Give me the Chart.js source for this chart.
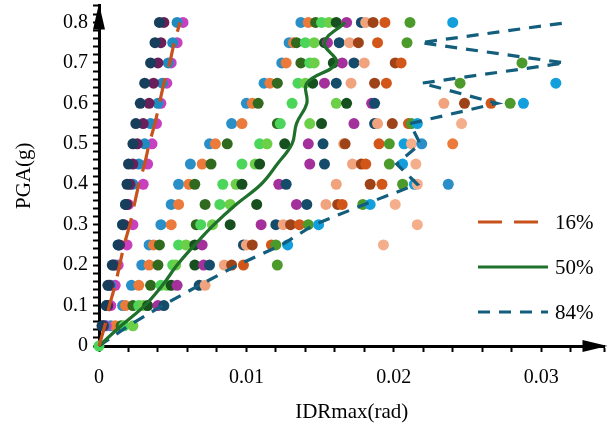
<!DOCTYPE html>
<html>
<head>
<meta charset="utf-8">
<script src="https://cdn.jsdelivr.net/npm/chart.js@4.4.1/dist/chart.umd.min.js"></script>
<style>
  html, body { margin: 0; padding: 0; background: #fff; }
</style>
</head>
<body>
<canvas id="idaChart" width="610" height="428"></canvas>
<script>
// PGA levels (g) used for every record
const pgaLevels = [0.05, 0.1, 0.15, 0.2, 0.25, 0.3, 0.35, 0.4, 0.45, 0.5, 0.55, 0.6, 0.65, 0.7, 0.75, 0.8];

// four stiff records, IDRmax (rad) at each PGA level
const stiffA = [0.0002, 0.0005, 0.0006, 0.0009, 0.0013, 0.0016, 0.0018, 0.0019, 0.0020, 0.0023, 0.0025, 0.0028, 0.0031, 0.0035, 0.0038, 0.0041];
const stiffB = [0.0003, 0.0006, 0.0007, 0.0010, 0.0014, 0.0017, 0.0019, 0.0021, 0.0023, 0.0026, 0.0030, 0.0034, 0.0037, 0.0040, 0.0042, 0.0044];
const stiffC = [0.0004, 0.0005, 0.0008, 0.0011, 0.0013, 0.0016, 0.0018, 0.0023, 0.0027, 0.0031, 0.0035, 0.0040, 0.0043, 0.0047, 0.0050, 0.0053];
const stiffD = [0.0005, 0.0008, 0.0011, 0.0013, 0.0019, 0.0023, 0.0020, 0.0030, 0.0033, 0.0036, 0.0039, 0.0042, 0.0046, 0.0049, 0.0053, 0.0057];

// the other records, IDRmax (rad) per PGA level, sorted by drift
const idr005 = [0.0008, 0.0011, 0.0015, 0.0017, 0.0023];
const idr010 = [0.0016, 0.0018, 0.0023, 0.0027, 0.0030, 0.0033, 0.0040, 0.0044];
const idr015 = [0.0022, 0.0027, 0.0035, 0.0042, 0.0046, 0.0049, 0.0053, 0.0068, 0.0072];
const idr020 = [0.0029, 0.0034, 0.0040, 0.0050, 0.0052, 0.0065, 0.0071, 0.0075, 0.0085, 0.0090, 0.0098, 0.0121];
const idr025 = [0.0034, 0.0037, 0.0041, 0.0054, 0.0059, 0.0065, 0.0070, 0.0098, 0.0100, 0.0104, 0.0117, 0.0120, 0.0128, 0.0193];
const idr030 = [0.0042, 0.0049, 0.0066, 0.0069, 0.0077, 0.0089, 0.0110, 0.0120, 0.0125, 0.0130, 0.0136, 0.0142, 0.0149, 0.0216];
const idr035 = [0.0049, 0.0054, 0.0072, 0.0082, 0.0089, 0.0107, 0.0134, 0.0141, 0.0154, 0.0162, 0.0165, 0.0179, 0.0184, 0.0201];
const idr040 = [0.0054, 0.0061, 0.0065, 0.0084, 0.0093, 0.0097, 0.0122, 0.0127, 0.0161, 0.0184, 0.0192, 0.0206, 0.0214, 0.0216, 0.0237];
const idr045 = [0.0062, 0.0070, 0.0076, 0.0097, 0.0106, 0.0109, 0.0143, 0.0153, 0.0172, 0.0178, 0.0181, 0.0197, 0.0206, 0.0215];
const idr050 = [0.0075, 0.0079, 0.0087, 0.0109, 0.0114, 0.0126, 0.0142, 0.0152, 0.0166, 0.0167, 0.0190, 0.0197, 0.0207, 0.0212, 0.0219, 0.0240];
const idr055 = [0.0090, 0.0097, 0.0121, 0.0123, 0.0143, 0.0151, 0.0173, 0.0187, 0.0189, 0.0199, 0.0210, 0.0212, 0.0216, 0.0246];
const idr060 = [0.0100, 0.0104, 0.0108, 0.0131, 0.0161, 0.0168, 0.0185, 0.0187, 0.0234, 0.0248, 0.0266, 0.0279, 0.0288];
const idr065 = [0.0112, 0.0116, 0.0121, 0.0135, 0.0140, 0.0145, 0.0153, 0.0161, 0.0171, 0.0187, 0.0195, 0.0245, 0.0310];
const idr070 = [0.0124, 0.0127, 0.0137, 0.0143, 0.0146, 0.0159, 0.0165, 0.0173, 0.0180, 0.0201, 0.0205, 0.0287];
const idr075 = [0.0129, 0.0132, 0.0134, 0.0140, 0.0146, 0.0153, 0.0155, 0.0163, 0.0170, 0.0176, 0.0189, 0.0209];
const idr080 = [0.0137, 0.0142, 0.0147, 0.0151, 0.0156, 0.0161, 0.0168, 0.0178, 0.0181, 0.0186, 0.0194, 0.0211, 0.0240];

// fractile curves, starting at the origin
const fractilePga = [0, 0.05, 0.1, 0.15, 0.2, 0.25, 0.3, 0.35, 0.4, 0.45, 0.5, 0.55, 0.6, 0.65, 0.7, 0.75, 0.8];
const frac16 = [0, 0.0004, 0.0007, 0.0011, 0.0014, 0.0017, 0.0021, 0.0024, 0.0027, 0.0031, 0.0034, 0.0038, 0.0041, 0.0044, 0.0048, 0.0051, 0.0055];
const frac50 = [0, 0.0015, 0.0031, 0.0043, 0.0053, 0.0065, 0.0078, 0.0093, 0.0110, 0.0121, 0.0131, 0.0134, 0.0141, 0.0141, 0.0161, 0.0153, 0.0167];
const frac84 = [0, 0.0020, 0.0043, 0.0068, 0.0094, 0.0124, 0.0146, 0.0180, 0.0216, 0.0202, 0.0218, 0.0211, 0.0270, 0.0219, 0.0316, 0.0218, 0.0318];

const stiffColors = ['#173f5c', '#6a1f5b', '#1f8bc1', '#c940bf'];
const recordColors = ['#2a8fc6', '#ec7a3a', '#2f6a1e', '#4bd65b', '#6bcf47', '#15501e', '#a3309b',
                      '#154c6a', '#f0a37d', '#9e4318', '#d2561a', '#4c9a2b', '#129fdc', '#f4ae8c'];

const serif = 'Liberation Serif';
const idrRows = [idr005, idr010, idr015, idr020, idr025, idr030, idr035, idr040,
                 idr045, idr050, idr055, idr060, idr065, idr070, idr075, idr080];

const datasets = [];

[stiffA, stiffB, stiffC, stiffD].forEach((rec, k) => {
  datasets.push({
    data: rec.map((v, i) => ({ x: v, y: pgaLevels[i] })),
    backgroundColor: stiffColors[k],
    pointRadius: 5.5, borderWidth: 0, order: 2, clip: false
  });
});

const otherPts = [];
const otherCols = [];
idrRows.forEach((row, r) => {
  row.forEach((v, i) => {
    otherPts.push({ x: v, y: pgaLevels[r] });
    otherCols.push(recordColors[i % recordColors.length]);
  });
});
datasets.push({
  data: otherPts, backgroundColor: otherCols,
  pointRadius: 5.5, borderWidth: 0, order: 2, clip: false
});

// all records start from rest
datasets.push({
  data: [{ x: 0, y: 0 }], backgroundColor: '#4bd65b',
  pointRadius: 5.5, borderWidth: 0, order: 1, clip: false
});

function fractile(label, vals, color, dash, tension) {
  return {
    label: label,
    data: vals.map((v, i) => ({ x: v, y: fractilePga[i] })),
    showLine: true, borderColor: color, borderWidth: 3.2, borderDash: dash,
    pointRadius: 0, tension: tension, order: 0, clip: false, isFractile: true
  };
}
datasets.push(fractile('16%', frac16, '#c8521c', [24, 12], 0));
datasets.push(fractile('50%', frac50, '#1e702a', [], 0.4));
datasets.push(fractile('84%', frac84, '#135e7d', [12, 9], 0));

// axis arrowheads and the in-plot legend
const extras = {
  id: 'extras',
  afterDraw(chart) {
    const ctx = chart.ctx;
    const a = chart.chartArea;
    ctx.save();
    ctx.fillStyle = '#000';
    ctx.beginPath();
    ctx.moveTo(a.right + 3, a.bottom);
    ctx.lineTo(a.right - 22, a.bottom - 6);
    ctx.lineTo(a.right - 22, a.bottom + 6);
    ctx.closePath();
    ctx.fill();
    ctx.beginPath();
    ctx.moveTo(a.left, a.top - 2);
    ctx.lineTo(a.left - 6, a.top + 24);
    ctx.lineTo(a.left + 6, a.top + 24);
    ctx.closePath();
    ctx.fill();

    let y = 222;
    chart.data.datasets.filter(d => d.isFractile).forEach(d => {
      ctx.strokeStyle = d.borderColor;
      ctx.lineWidth = 3.2;
      ctx.setLineDash(d.borderDash);
      ctx.beginPath();
      ctx.moveTo(478, y);
      ctx.lineTo(548, y);
      ctx.stroke();
      ctx.setLineDash([]);
      ctx.fillStyle = '#000';
      ctx.font = '21px "' + serif + '"';
      ctx.textBaseline = 'middle';
      ctx.fillText(d.label, 555, y + 1);
      y += 45;
    });
    ctx.restore();
  }
};

new Chart(document.getElementById('idaChart'), {
  type: 'scatter',
  data: { datasets: datasets },
  options: {
    responsive: false,
    animation: false,
    devicePixelRatio: 1,
    layout: { padding: { top: 5, right: 5, left: 0, bottom: 0 } },
    plugins: {
      legend: { display: false },
      tooltip: { enabled: false }
    },
    scales: {
      x: {
        type: 'linear', min: 0, max: 0.0343,
        afterFit: s => { s.height = 82; s.paddingLeft = 0; s.paddingRight = 0; },
        border: { color: '#000', width: 3 },
        grid: { drawOnChartArea: false, drawTicks: true, tickLength: 6, tickWidth: 2, tickColor: '#000' },
        ticks: {
          stepSize: 0.002, autoSkip: false, maxRotation: 0, padding: 14,
          color: '#000', font: { family: serif, size: 20 },
          callback: v => {
            const r = Math.round(v * 100) / 100;
            return Math.abs(v - r) < 1e-7 && v <= 0.0301 ? String(r) : '';
          }
        },
        title: {
          display: true, text: 'IDRmax(rad)', color: '#000',
          font: { family: serif, size: 21 }, padding: { top: 0, bottom: 3 }
        }
      },
      y: {
        type: 'linear', min: 0, max: 0.842,
        afterFit: s => { s.width = 99; s.paddingTop = 0; s.paddingBottom = 0; },
        border: { color: '#000', width: 3 },
        grid: { drawOnChartArea: false, drawTicks: true, tickLength: 6, tickWidth: 2, tickColor: '#000' },
        ticks: {
          stepSize: 0.02, autoSkip: false, padding: 5,
          color: '#000', font: { family: serif, size: 20 },
          callback: v => {
            const r = Math.round(v * 10) / 10;
            return Math.abs(v - r) < 1e-7 && v <= 0.801 ? String(r) : '';
          }
        },
        title: {
          display: true, text: 'PGA(g)', color: '#000',
          font: { family: serif, size: 21 }, padding: { top: 12, bottom: 0 }
        }
      }
    }
  },
  plugins: [extras]
});
</script>
</body>
</html>
